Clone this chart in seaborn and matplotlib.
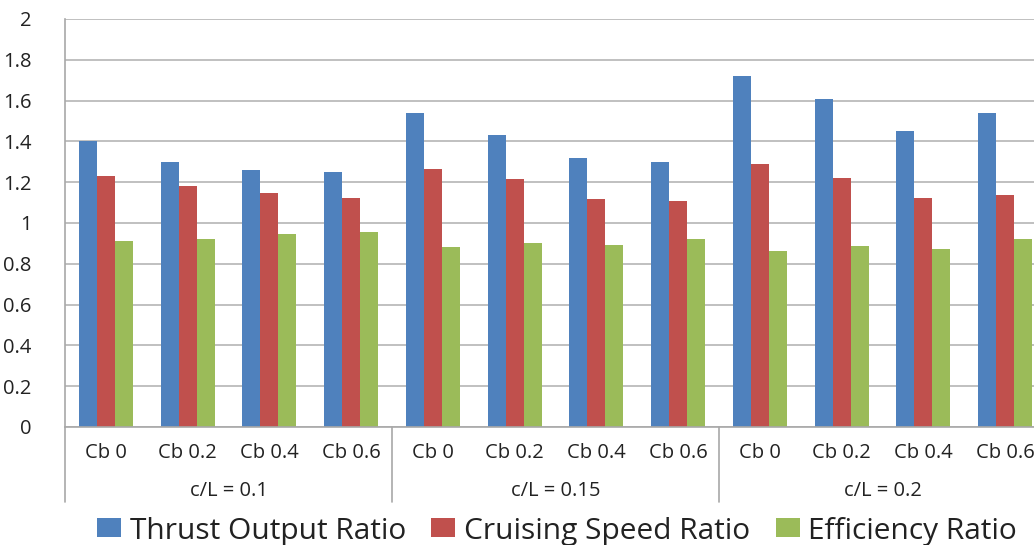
import numpy as np
import pandas as pd
import matplotlib
matplotlib.use("Agg")
import matplotlib.pyplot as plt
import matplotlib.transforms as mtransforms
import seaborn as sns

# Propeller ratios for each blade-chord (c/L) and Cb setting
cb_labels = ["Cb 0", "Cb 0.2", "Cb 0.4", "Cb 0.6"] * 3
group_labels = ["c/L = 0.1", "c/L = 0.15", "c/L = 0.2"]
series_names = ["Thrust Output Ratio", "Cruising Speed Ratio", "Efficiency Ratio"]

thrust = [1.40, 1.30, 1.26, 1.25,
          1.54, 1.43, 1.32, 1.30,
          1.72, 1.61, 1.45, 1.54]
speed = [1.23, 1.18, 1.145, 1.125,
         1.265, 1.215, 1.12, 1.11,
         1.29, 1.22, 1.125, 1.135]
efficiency = [0.91, 0.92, 0.947, 0.956,
              0.883, 0.90, 0.892, 0.92,
              0.865, 0.887, 0.871, 0.92]

colors = ["#4F81BD", "#C0504D", "#9BBB59"]

rows = []
for name, vals in zip(series_names, [thrust, speed, efficiency]):
    for i, v in enumerate(vals):
        rows.append({"pos": i, "series": name, "value": v})
df = pd.DataFrame(rows)

sns.set_style("white")
plt.rcParams["font.family"] = ["Open Sans", "DejaVu Sans"]

fig = plt.figure(figsize=(10.34, 5.45), dpi=100)
ax = fig.add_axes([65 / 1034, 118 / 545, 981 / 1034, 408 / 545])

sns.barplot(data=df, x="pos", y="value", hue="series", order=list(range(12)),
            hue_order=series_names, palette=colors, width=0.66, saturation=1,
            edgecolor="none", ax=ax, legend=True)

tick_fs = 14.5
ax.set_ylim(0, 2)
ax.set_xlim(-0.5, 11.5)
ax.set_yticks(np.arange(0, 2.01, 0.2))
ax.set_yticklabels(["0", "0.2", "0.4", "0.6", "0.8", "1", "1.2", "1.4", "1.6", "1.8", "2"],
                   fontsize=tick_fs, color="#222222")
ax.tick_params(axis="y", length=0, pad=24)
ax.yaxis.grid(True, color="#B5B5B5", linewidth=1.2)
ax.set_axisbelow(True)
ax.set_xlabel("")
ax.set_ylabel("")
ax.set_xticks([])

for side in ["top", "right"]:
    ax.spines[side].set_visible(False)
for side in ["left", "bottom"]:
    ax.spines[side].set_color("#A8A8A8")
    ax.spines[side].set_linewidth(1.2)

trans = mtransforms.blended_transform_factory(ax.transData, ax.transAxes)
# category labels
for i, lab in enumerate(cb_labels):
    ax.text(i, -26 / 408, lab, transform=trans, ha="center", va="center",
            fontsize=tick_fs, color="#222222")
# group labels
for g, lab in enumerate(group_labels):
    ax.text(g * 4 + 1.5, -64 / 408, lab, transform=trans, ha="center", va="center",
            fontsize=tick_fs, color="#222222")
# group dividers
for xdiv in [-0.5, 3.5, 7.5, 11.5]:
    ax.plot([xdiv, xdiv], [0, -75 / 408], transform=trans, color="#A8A8A8",
            linewidth=1.2, clip_on=False)

handles, labels = ax.get_legend_handles_labels()
ax.legend_.remove()
fig.legend(handles, labels, loc="center", bbox_to_anchor=(557 / 1034, 1 - 531 / 545),
           ncol=3, frameon=False, fontsize=21.5, handlelength=0.8, handleheight=0.6,
           handletextpad=0.3, columnspacing=0.85, labelcolor="#222222")

fig.savefig("out.png", dpi=100)
